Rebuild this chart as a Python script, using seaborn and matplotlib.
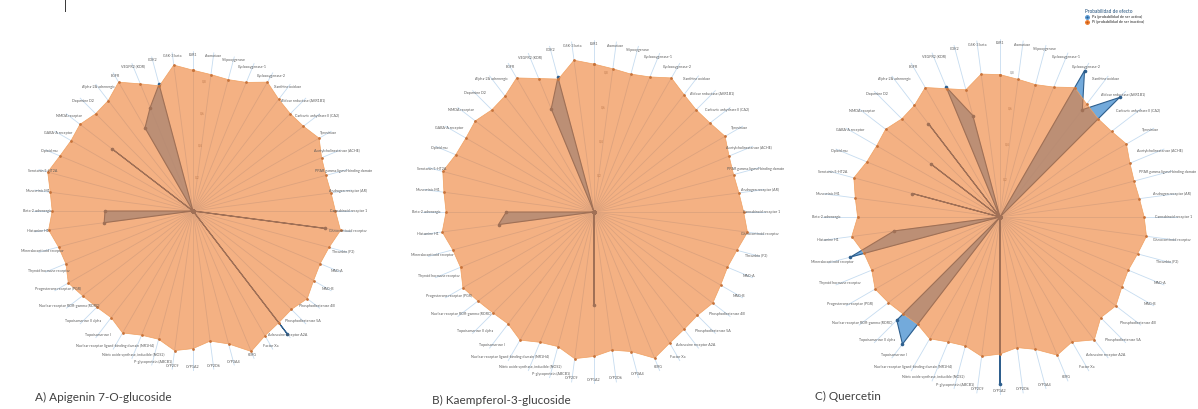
import numpy as np
import seaborn as sns
import matplotlib.pyplot as plt
from matplotlib.lines import Line2D

sns.set_theme(style="white")
plt.rcParams["font.family"] = ["Lato", "DejaVu Sans"]

targets = [
    "ESR1", "Aromatase", "5-lipoxygenase", "Cyclooxygenase-1",
    "Cyclooxygenase-2", "Xanthine oxidase", "Aldose reductase (AKR1B1)",
    "Carbonic anhydrase II (CA2)", "Tyrosinase", "Acetylcholinesterase (ACHE)",
    "PPAR gamma ligand-binding domain", "Androgen receptor (AR)",
    "Cannabinoid receptor 1", "Glucocorticoid receptor", "Thrombin (F2)",
    "MAO-A", "MAO-B", "Phosphodiesterase 4B", "Phosphodiesterase 5A", "Adenosine receptor A2A",
    "Factor Xa", "hERG", "CYP3A4", "CYP2D6", "CYP1A2", "CYP2C9", "P-glycoprotein (ABCB1)",
    "Nitric oxide synthase, inducible (NOS2)", "Nuclear receptor ligand-binding domain (NR1H4)",
    "Topoisomerase I", "Topoisomerase II alpha", "Nuclear receptor ROR-gamma (RORC)",
    "Progesterone receptor (PGR)", "Thyroid hormone receptor", "Mineralocorticoid receptor",
    "Histamine H1", "Beta-2 adrenergic", "Muscarinic M1", "Serotonin 5-HT2A", "Opioid mu",
    "GABA-A receptor", "NMDA receptor", "Dopamine D2", "Alpha-2A adrenergic", "EGFR",
    "VEGFR2 (KDR)", "CDK2", "GSK-3 beta",
]

# values read per spoke, clockwise from the top
orange_a = [0.88, 0.86, 0.85, 0.87, 0.93, 0.88, 0.86, 0.87, 0.91, 0.87, 0.86, 0.87,
            0.89, 0.93, 0.88, 0.86, 0.87, 0.90, 0.87, 0.88, 0.90, 0.95, 0.86, 0.82,
            0.86, 0.88, 0.83, 0.84, 0.88, 0.84, 0.85, 0.87, 0.90, 0.86, 0.87, 0.91,
            0.88, 0.90, 0.94, 0.90, 0.88, 0.89, 0.86, 0.87, 0.93, 0.86, 0.81, 0.92]
blue_a = [0, 0, 0, 0, 0, 0, 0, 0, 0, 0, 0, 0,
          0, 0.83, 0, 0, 0, 0, 0, 0.97, 0, 0, 0, 0,
          0, 0, 0, 0, 0, 0, 0, 0, 0, 0, 0, 0.56,
          0.55, 0, 0, 0, 0, 0.64, 0, 0, 0.60, 0.70, 0.82, 0]

orange_b = [0.86, 0.84, 0.83, 0.85, 0.90, 0.86, 0.84, 0.85, 0.88, 0.85, 0.84, 0.85,
            0.87, 0.90, 0.86, 0.84, 0.85, 0.87, 0.85, 0.86, 0.88, 0.92, 0.84, 0.81,
            0.84, 0.86, 0.81, 0.82, 0.86, 0.82, 0.83, 0.85, 0.88, 0.84, 0.85, 0.89,
            0.86, 0.88, 0.91, 0.87, 0.86, 0.87, 0.84, 0.85, 0.90, 0.84, 0.80, 0.89]
blue_b = [0, 0, 0, 0, 0, 0, 0, 0, 0, 0, 0, 0,
          0, 0, 0, 0, 0, 0, 0, 0, 0, 0, 0, 0,
          0.54, 0, 0, 0, 0, 0, 0, 0, 0, 0, 0, 0.56,
          0.51, 0, 0, 0, 0, 0, 0, 0, 0, 0.65, 0.81, 0]

orange_c = [0.80, 0.78, 0.77, 0.79, 0.84, 0.80, 0.78, 0.79, 0.82, 0.79, 0.78, 0.79,
            0.81, 0.83, 0.80, 0.78, 0.79, 0.82, 0.80, 0.87, 0.81, 0.84, 0.77, 0.74,
            0.77, 0.79, 0.75, 0.76, 0.79, 0.76, 0.77, 0.79, 0.81, 0.78, 0.79, 0.84,
            0.80, 0.82, 0.85, 0.81, 0.80, 0.81, 0.78, 0.79, 0.84, 0.78, 0.74, 0.81]
blue_c = [0, 0, 0, 0, 0.95, 0.76, 0.95, 0, 0, 0, 0, 0,
          0, 0, 0, 0, 0, 0, 0, 0, 0, 0, 0, 0,
          0.94, 0, 0, 0, 0, 0.90, 0.82, 0, 0, 0, 0.87, 0.60,
          0, 0, 0.51, 0, 0, 0.49, 0, 0.66, 0, 0.79, 0.59, 0]

titles = ["A) Apigenin 7-O-glucoside", "B) Kaempferol-3-glucoside", "C) Quercetin"]
series_names = ["Pa (probabilidad de ser activo)", "Pi (probabilidad de ser inactivo)"]
legend_title = "Probabilidad de efecto"

BLUE = "#5B9BD5"
ORANGE = "#ED7D31"

W, H = 1198, 409
fig = plt.figure(figsize=(W / 100, H / 100), dpi=100)

# panel centre (px from left, px from top) and radius in px
panels = [(193, 211, 160), (594, 212, 172), (1000, 217, 178)]
title_pos = [(35, 397), (432, 400), (815, 396)]
data = [(orange_a, blue_a), (orange_b, blue_b), (orange_c, blue_c)]

n = len(targets)
theta = np.linspace(0, 2 * np.pi, n, endpoint=False)
theta_c = np.append(theta, theta[0] + 2 * np.pi)

for (cx, cy, R), (orange, blue), title, (tx, ty) in zip(panels, data, titles, title_pos):
    ax = fig.add_axes([(cx - R) / W, (H - cy - R) / H, 2 * R / W, 2 * R / H], projection="polar")
    ax.set_theta_zero_location("N")
    ax.set_theta_direction(-1)
    ax.set_ylim(0, 1.0)
    ax.spines["polar"].set_visible(False)
    ax.set_xticks(theta)
    ax.set_xticklabels([])
    ax.xaxis.grid(True, color="#c6dcf0", lw=0.6)
    ax.yaxis.grid(False)
    ax.set_yticks([0.2, 0.4, 0.6, 0.8])
    ax.set_yticklabels(["0,2", "0,4", "0,6", "0,8"], fontsize=2.5, color="#8a8a8a")
    ax.set_rlabel_position(4)
    ax.set_axisbelow(True)

    b = np.append(blue, blue[0])
    o = np.append(orange, orange[0])
    ax.fill(theta_c, b, color=BLUE, alpha=0.85, lw=0, zorder=2)
    sns.lineplot(x=theta_c, y=b, sort=False, estimator=None, ax=ax, color="#2e5f8e",
                 lw=0.8, marker="o", markersize=2.6, markeredgewidth=0, zorder=3)
    ax.fill(theta_c, o, color=ORANGE, alpha=0.6, lw=0, zorder=4)
    sns.lineplot(x=theta_c, y=o, sort=False, estimator=None, ax=ax, color="#f0a060",
                 lw=0.5, marker="o", markersize=2.0, markeredgewidth=0, zorder=5)
    ax.lines[-1].set_markerfacecolor("#c8733a")
    ax.set_xlabel("")
    ax.set_ylabel("")

    for t, lab in zip(theta, targets):
        ax.text(t, 0.975, lab, fontsize=2.6, color="#595959", ha="center", va="center",
                clip_on=False, zorder=6)

    fig.text(tx / W, 1 - ty / H, title, fontsize=8.5, color="#404040", va="center", ha="left")

handles = [
    Line2D([], [], color=BLUE, lw=0.8, marker="o", markersize=2.5, markerfacecolor="#2e5f8e"),
    Line2D([], [], color=ORANGE, lw=0.8, marker="o", markersize=2.5, markerfacecolor="#c55a11"),
]
leg = fig.legend(handles, series_names, title=legend_title, loc="upper left",
                 bbox_to_anchor=(1082 / W, 1 - 6 / H), fontsize=2.8, title_fontsize=3.4,
                 frameon=False, handlelength=1.2, labelspacing=0.3, borderpad=0.2)
leg.get_title().set_color("#1f4e79")
leg._legend_box.align = "left"

fig.text(65 / W, 1 - 6 / H, "|", fontsize=9, color="#222222", va="center", ha="center")

fig.savefig("out.png", dpi=100, facecolor="white")
